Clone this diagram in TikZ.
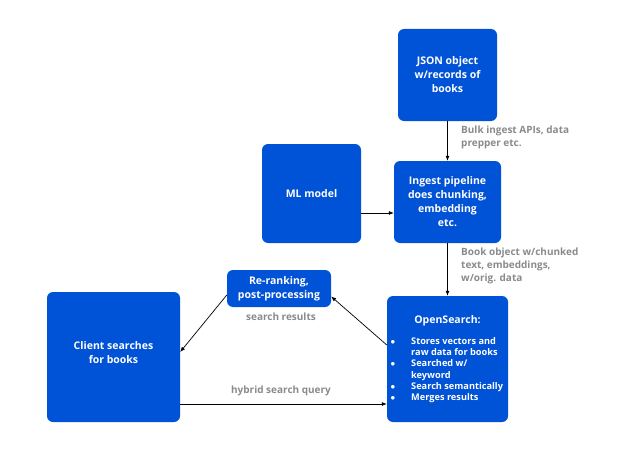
\documentclass[tikz,border=0pt]{standalone}
\usepackage{fontspec}
\setmainfont{Open Sans}
\usetikzlibrary{arrows.meta}
\definecolor{boxblue}{RGB}{0,82,214}
\definecolor{labelgray}{RGB}{138,138,138}
\newcommand{\ositem}{\makebox[23pt][l]{\hspace{2.5pt}$\bullet$}}
\newcommand{\osgap}{\makebox[23pt]{}}
\begin{document}
\begin{tikzpicture}[x=1pt, y=-1pt,
	box/.style={fill=boxblue, rounded corners=6pt, text=white, align=center, font=\bfseries\fontsize{10.5}{14}\selectfont, inner sep=0pt},
	lbl/.style={text=labelgray, align=left, font=\bfseries\fontsize{10}{13}\selectfont, inner sep=0pt},
	arr/.style={-{Latex[length=5pt,width=4pt]}, line width=0.7pt}]
	\useasboundingbox (0,0) rectangle (624,452);
	\node[box, minimum width=99pt, minimum height=92pt] (json) at (447.5,75) {JSON object\\w/records of\\books};
	\node[box, minimum width=107pt, minimum height=82pt] (ingest) at (447.5,202) {Ingest pipeline\\does chunking,\\embedding\\etc.};
	\node[box, minimum width=99pt, minimum height=99pt] (ml) at (311.5,193.5) {ML model};
	\node[box, minimum width=104pt, minimum height=37pt] (rerank) at (279,288.5) {Re-ranking,\\post-processing};
	\node[box, minimum width=133pt, minimum height=130pt] (client) at (113.5,357) {Client searches\\for books\\[-6pt]};
	\node[box, minimum width=121pt, minimum height=126pt] (os) at (447.5,359) {};
	\node[text=white, font=\bfseries\fontsize{10.5}{14}\selectfont] (ostitle) at (447.5,321) {OpenSearch:};
	\node[text=white, anchor=north west, align=left, inner sep=0pt, font=\bfseries\fontsize{9.2}{11.3}\selectfont] (oslist) at (388,337) {%
		\ositem Stores vectors and\\
		\osgap raw data for books\\
		\ositem Searched w/\\
		\osgap keyword\\
		\ositem Search semantically\\
		\ositem Merges results};
	% connectors
	\draw[arr] (json.south) -- (ingest.north);
	\coordinate (mlin) at ([yshift=-11pt]ingest.west);
	\draw[arr] (ml.east |- mlin) -- (mlin);
	\draw[arr] (ingest.south) -- (os.north);
	\draw[arr] ([yshift=14pt]os.west) -- ([yshift=-8pt]rerank.east);
	\draw[arr] ([yshift=-6.5pt]rerank.west) -- ([yshift=5pt]client.east);
	\coordinate (query) at ([yshift=-47pt]client.east);
	\draw[arr] (query) -- (os.west |- query);
	% labels
	\node[lbl, anchor=north west] (bulk) at (461,126) {Bulk ingest APIs, data\\prepper etc.};
	\node[lbl, anchor=north west] (book) at (461,248) {Book object w/chunked\\text, embeddings,\\w/orig. data};
	\node[lbl] (results) at (281,317) {search results};
	\node[lbl] (hybrid) at (281,391) {hybrid search query};
\end{tikzpicture}
\end{document}
